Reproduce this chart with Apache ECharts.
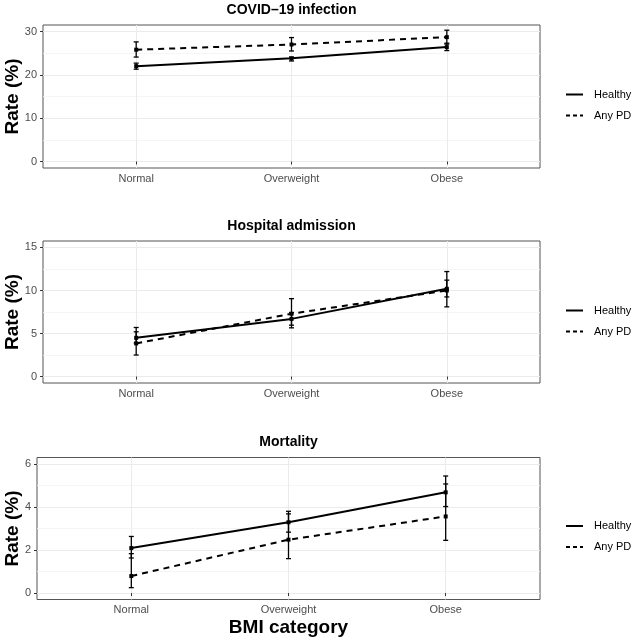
<!DOCTYPE html>
<html>
<head>
<meta charset="utf-8">
<script src="https://cdn.jsdelivr.net/npm/echarts@6/dist/echarts.min.js"></script>
<style>
html, body { margin: 0; padding: 0; background: #fff; }
#chart { width: 634px; height: 641px; }
</style>
</head>
<body>
<div id="chart"></div>
<script>
var categories = ['Normal', 'Overweight', 'Obese'];
var groups = ['Healthy', 'Any PD'];
var panelTitles = ['COVID\u201319 infection', 'Hospital admission', 'Mortality'];

// COVID-19 infection
var infHealthy = [22.0, 23.8, 26.4];
var infHealthyLow = [21.3, 23.2, 25.6];
var infHealthyHigh = [22.7, 24.1, 27.3];
var infPD = [25.8, 27.0, 28.7];
var infPDLow = [24.1, 25.5, 27.1];
var infPDHigh = [27.6, 28.6, 30.3];
var infTicks = [0, 10, 20, 30];

// Hospital admission
var hospHealthy = [4.5, 6.7, 10.2];
var hospHealthyLow = [3.9, 5.97, 9.25];
var hospHealthyHigh = [5.2, 7.43, 11.2];
var hospPD = [3.85, 7.3, 10.0];
var hospPDLow = [2.5, 5.66, 8.1];
var hospPDHigh = [5.7, 9.05, 12.2];
var hospTicks = [0, 5, 10, 15];

// Mortality
var mortHealthy = [2.09, 3.29, 4.68];
var mortHealthyLow = [1.63, 2.83, 4.02];
var mortHealthyHigh = [2.63, 3.8, 5.44];
var mortPD = [0.79, 2.48, 3.56];
var mortPDLow = [0.25, 1.6, 2.45];
var mortPDHigh = [1.83, 3.68, 5.07];
var mortTicks = [0, 2, 4, 6];

var panels = [
    {healthy: infHealthy, hLow: infHealthyLow, hHigh: infHealthyHigh,
     pd: infPD, pLow: infPDLow, pHigh: infPDHigh, ticks: infTicks},
    {healthy: hospHealthy, hLow: hospHealthyLow, hHigh: hospHealthyHigh,
     pd: hospPD, pLow: hospPDLow, pHigh: hospPDHigh, ticks: hospTicks},
    {healthy: mortHealthy, hLow: mortHealthyLow, hHigh: mortHealthyHigh,
     pd: mortPD, pLow: mortPDLow, pHigh: mortPDHigh, ticks: mortTicks}
];

// layout of each panel (px)
var grids = [
    {left: 43, top: 25, width: 497, height: 143},
    {left: 43, top: 241, width: 497, height: 142},
    {left: 37, top: 457.5, width: 503, height: 142}
];
var nameGaps = [20.5, 20.5, 14.5];
var titleTops = [3, 219, 435];
var legendTops = [84, 300, 515.5];

var catPos = categories.map(function (c, i) { return i + 1; });

function pairs(vals) {
    return vals.map(function (v, i) { return [i + 1, v]; });
}

function errorSeries(idx, name, low, high) {
    return {
        type: 'custom',
        name: name,
        xAxisIndex: idx,
        yAxisIndex: idx * 2,
        silent: true,
        z: 3,
        data: low.map(function (v, i) { return [i + 1, v, high[i]]; }),
        renderItem: function (params, api) {
            var x = api.value(0);
            var top = api.coord([x, api.value(2)]);
            var bot = api.coord([x, api.value(1)]);
            var w = 2.5;
            var st = {stroke: '#000', lineWidth: 1.3};
            return {
                type: 'group',
                children: [
                    {type: 'line', shape: {x1: top[0], y1: top[1], x2: bot[0], y2: bot[1]}, style: st},
                    {type: 'line', shape: {x1: top[0] - w, y1: top[1], x2: top[0] + w, y2: top[1]}, style: st},
                    {type: 'line', shape: {x1: bot[0] - w, y1: bot[1], x2: bot[0] + w, y2: bot[1]}, style: st}
                ]
            };
        }
    };
}

function lineSeries(idx, name, vals, dash) {
    return {
        type: 'line',
        name: name,
        xAxisIndex: idx,
        yAxisIndex: idx * 2,
        data: pairs(vals),
        symbol: 'rect',
        symbolSize: 4,
        z: 4,
        itemStyle: {color: '#000'},
        lineStyle: {color: '#000', width: 2, type: dash ? [6, 5] : 'solid'}
    };
}

var option = {
    animation: false,
    textStyle: {fontFamily: 'Liberation Sans, Arial, sans-serif'},
    title: [],
    legend: [],
    grid: [],
    xAxis: [],
    yAxis: [],
    series: []
};

panels.forEach(function (p, i) {
    var ticks = p.ticks;
    var span = ticks[ticks.length - 1] - ticks[0];
    var yMin = ticks[0] - span * 0.05;
    var yMax = ticks[ticks.length - 1] + span * 0.05;
    var minor = ticks.slice(1).map(function (t, k) { return (t + ticks[k]) / 2; });
    var g = grids[i];

    option.grid.push({
        left: g.left, top: g.top, width: g.width, height: g.height,
        outerBoundsMode: 'none',
        show: true, borderColor: '#555', borderWidth: 1, backgroundColor: '#fff'
    });

    option.title.push({
        text: panelTitles[i],
        left: g.left + g.width / 2,
        top: titleTops[i],
        textAlign: 'center',
        padding: 0,
        textStyle: {fontSize: 14, fontWeight: 'bold', color: '#000'}
    });

    option.legend.push({
        data: [{name: 'Healthy'}, {name: 'Any PD', lineStyle: {type: [4, 3]}}],
        orient: 'vertical',
        left: 560,
        top: legendTops[i],
        itemWidth: 17,
        itemHeight: 12,
        itemGap: 10,
        selectedMode: false,
        itemStyle: {opacity: 0},
        textStyle: {fontSize: 11, color: '#000', padding: [0, 0, 0, 6]}
    });

    option.xAxis.push({
        gridIndex: i,
        type: 'value',
        min: 0.4,
        max: 3.6,
        name: i === 2 ? 'BMI category' : '',
        nameLocation: 'middle',
        nameGap: 19,
        nameMoveOverlap: false,
        nameTextStyle: {fontSize: 19, fontWeight: 'bold', color: '#000'},
        axisLine: {show: false},
        axisTick: {customValues: catPos, length: 3, lineStyle: {color: '#333'}},
        axisLabel: {
            customValues: catPos,
            formatter: function (v) { return categories[Math.round(v) - 1]; },
            color: '#4d4d4d', fontSize: 11, margin: 5
        },
        splitLine: {show: true, lineStyle: {color: '#ebebeb', width: 1}}
    });

    option.yAxis.push({
        gridIndex: i,
        type: 'value',
        min: yMin,
        max: yMax,
        name: 'Rate (%)',
        nameLocation: 'middle',
        nameGap: nameGaps[i],
        nameMoveOverlap: false,
        nameTextStyle: {fontSize: 19, fontWeight: 'bold', color: '#000'},
        axisLine: {show: false},
        axisTick: {show: true, customValues: ticks, length: 3, lineStyle: {color: '#333'}},
        axisLabel: {customValues: ticks, color: '#4d4d4d', fontSize: 11, margin: 6},
        splitLine: {show: true, lineStyle: {color: '#ebebeb', width: 1}}
    });
    // minor grid lines
    option.yAxis.push({
        gridIndex: i,
        type: 'value',
        position: 'left',
        min: yMin,
        max: yMax,
        axisLine: {show: false},
        axisTick: {show: false, customValues: minor},
        axisLabel: {show: false, customValues: minor},
        splitLine: {show: true, lineStyle: {color: '#f3f3f3', width: 0.8}}
    });

    option.series.push(errorSeries(i, 'Healthy CI', p.hLow, p.hHigh));
    option.series.push(errorSeries(i, 'Any PD CI', p.pLow, p.pHigh));
    option.series.push(lineSeries(i, 'Healthy', p.healthy, false));
    option.series.push(lineSeries(i, 'Any PD', p.pd, true));
});

var myChart = echarts.init(document.getElementById('chart'));
myChart.setOption(option);
</script>
</body>
</html>
